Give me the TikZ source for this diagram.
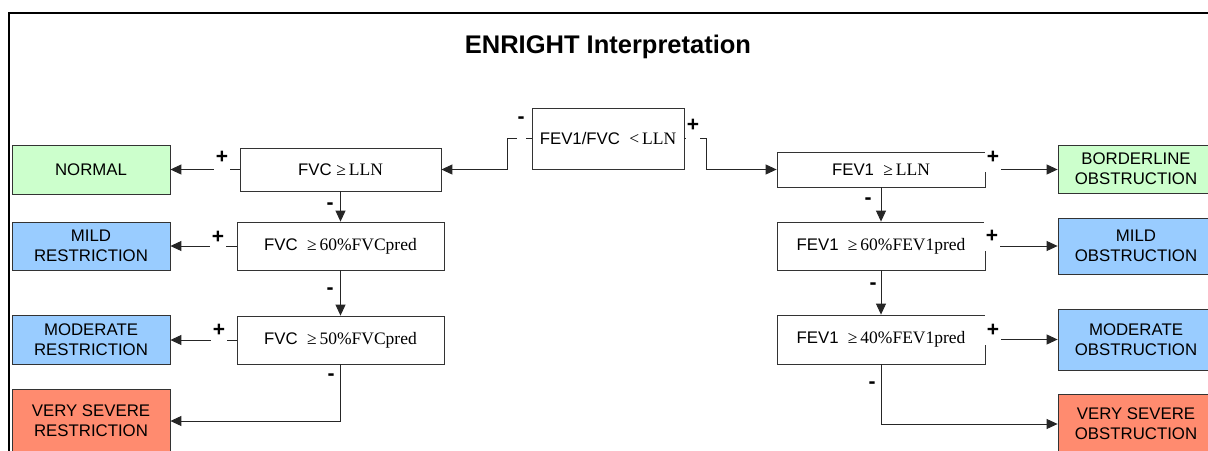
\documentclass[tikz,border=0pt]{standalone}
\usepackage{fontspec}
\setmainfont{Liberation Serif}
\setsansfont{Liberation Sans}
\usetikzlibrary{arrows.meta,calc}
\definecolor{resgreen}{HTML}{CCFFCC}
\definecolor{resblue}{HTML}{99CCFF}
\definecolor{ressalmon}{HTML}{FF8B6F}
\definecolor{edgegray}{HTML}{333333}
\newcommand{\sr}[1]{{\rmfamily\fontsize{17.5}{20}\selectfont #1}}
\begin{document}
\begin{tikzpicture}[x=1pt,y=-1pt,
  cond/.style={draw=edgegray, line width=0.8pt, fill=white, inner sep=0pt,
    font=\sffamily\fontsize{16.8}{20}\selectfont},
  res/.style={cond, align=center, minimum width=158pt},
  resr/.style={cond, align=center, minimum width=156pt},
  conn/.style={draw=black!85, line width=0.9pt, -{Triangle[length=11pt,width=10pt]}},
  plus/.style={font=\sffamily\bfseries\fontsize{21}{22}\selectfont, fill=white,
    inner sep=0pt, minimum width=16pt, minimum height=30pt},
  minus/.style={font=\sffamily\bfseries\fontsize{21}{22}\selectfont, inner sep=0pt}
]
\useasboundingbox (0,0) rectangle (1208,450);
\fill[white] (0,0) rectangle (1208,450);
% frame
\draw[line width=2pt] (9,451) -- (9,13) -- (1209,13);
% title
\node[font=\sffamily\bfseries\fontsize{25.5}{28}\selectfont] (title) at (608,46.5) {ENRIGHT Interpretation};

% decision boxes
\node[cond, minimum width=152pt, minimum height=61pt] (ctr) at (608,138.5) {FEV1/FVC\ \ \sr{<\,LLN}};
\node[cond, minimum width=201pt, minimum height=43pt] (fvc1) at (340.5,169.5) {FVC \sr{≥\,LLN}};
\node[cond, minimum width=207pt, minimum height=48pt] (fvc2) at (340.5,246) {FVC\ \ \sr{≥\,60\%FVCpred}};
\node[cond, minimum width=207pt, minimum height=48pt] (fvc3) at (340.5,340) {FVC\ \ \sr{≥\,50\%FVCpred}};
\node[cond, minimum width=208pt, minimum height=35pt] (fev1) at (881,169.5) {FEV1\ \ \sr{≥\,LLN}};
\node[cond, minimum width=208pt, minimum height=48pt] (fev2) at (881,246) {FEV1\ \ \sr{≥\,60\%FEV1pred}};
\node[cond, minimum width=208pt, minimum height=49pt] (fev3) at (881,339.5) {FEV1\ \ \sr{≥\,40\%FEV1pred}};

% result boxes
\node[res, fill=resgreen, minimum height=49pt] (normal) at (91,169.5) {NORMAL};
\node[res, fill=resblue, minimum height=48pt] (mildr) at (91,246) {MILD\\RESTRICTION};
\node[res, fill=resblue, minimum height=49pt] (modr) at (91,339.5) {MODERATE\\RESTRICTION};
\node[res, fill=ressalmon, minimum height=64pt] (vsr) at (91,421) {VERY SEVERE\\RESTRICTION};
\node[resr, fill=resgreen, minimum height=48pt] (bord) at (1136,169) {BORDERLINE\\OBSTRUCTION};
\node[resr, fill=resblue, minimum height=56pt] (mildo) at (1136,246) {MILD\\OBSTRUCTION};
\node[resr, fill=resblue, minimum height=61pt] (modo) at (1136,339.5) {MODERATE\\OBSTRUCTION};
\node[resr, fill=ressalmon, minimum height=60pt] (vso) at (1136,424) {VERY SEVERE\\OBSTRUCTION};

% connectors
\draw[conn] (ctr.west) -- ++(-24,0) |- (fvc1.east);
\draw[conn] (ctr.east) -- ++(22,0) |- (fev1.west);
\draw[conn] (fvc1.west) -- (normal.east);
\draw[conn] (fvc2.west) -- (mildr.east);
\draw[conn] (fvc3.west) -- (fvc3.west -| modr.east);
\draw[conn] (fvc1.south) -- (fvc2.north);
\draw[conn] (fvc2.south) -- (fvc3.north);
\draw[conn] (fvc3.south) |- (vsr.east);
\draw[conn] (fev1.east) -- (fev1.east -| bord.west);
\draw[conn] (fev2.east) -- (mildo.west);
\draw[conn] (fev3.east) -- (fev3.east -| modo.west);
\draw[conn] (fev1.south) -- (fev2.north);
\draw[conn] (fev2.south) -- (fev3.north);
\draw[conn] (fev3.south) |- (vso.west);

% labels
\node[minus, fill=white, minimum width=9pt, minimum height=40pt] (lc1) at (521,120) {-};
\node[plus, minimum width=14pt] (lc2) at (693,125) {+};
\node[plus] (l1p) at (222,157) {+};
\node[minus] (l1m) at (330,206) {-};
\node[plus] (l2p) at (218,237) {+};
\node[minus] (l2m) at (330,291) {-};
\node[plus] (l3p) at (219,330) {+};
\node[minus] (l3m) at (331,377) {-};
\node[plus] (r1p) at (993,157) {+};
\node[minus] (r1m) at (868,201) {-};
\node[plus] (r2p) at (992,236) {+};
\node[minus] (r2m) at (873,286) {-};
\node[plus] (r3p) at (993,330) {+};
\node[minus] (r3m) at (872,385) {-};
\end{tikzpicture}
\end{document}
